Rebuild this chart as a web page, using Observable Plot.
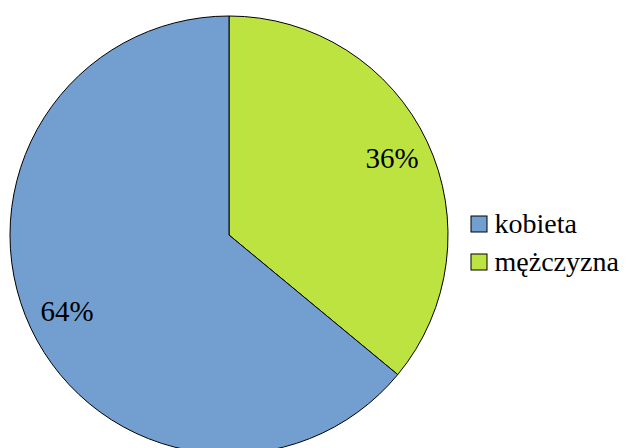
<!DOCTYPE html>
<html>
<head>
<meta charset="utf-8">
<script src="https://cdn.jsdelivr.net/npm/d3@7"></script>
<script src="https://cdn.jsdelivr.net/npm/@observablehq/plot@0.6"></script>
<style>
  html, body { margin: 0; padding: 0; background: #ffffff; }
  #chart svg { display: block; }
  #fontwarm { position: absolute; left: 0; top: 460px; font-family: "Liberation Serif"; font-size: 28px; color: #fff; white-space: nowrap; }
</style>
</head>
<body>
<div id="chart"></div>
<div id="fontwarm">kobieta mężczyzna 64% 36%</div>
<script>
// ---- data ----
const categories = ["kobieta", "mężczyzna"];
const shares = [64, 36];
const shareLabels = ["64%", "36%"];
const sliceColors = ["#729fcf", "#bde341"];
// drawing order of the slices, clockwise from 12 o'clock
const pieOrder = ["mężczyzna", "kobieta"];

// ---- layout ----
const W = 632, H = 448;
const CX = 229, CY = 235, R = 219;
const LABEL_R = 0.82;
const FONT = "Liberation Serif";

const rows = categories.map((c, i) => ({cat: c, value: shares[i], label: shareLabels[i]}));
const pieRows = pieOrder.map(c => rows.find(r => r.cat === c));
const arcs = d3.pie().sort(null).value(d => d.value)(pieRows);
const labelArc = d3.arc().innerRadius(R * LABEL_R).outerRadius(R * LABEL_R);
const labelRows = arcs.map(a => {
  const [dx, dy] = labelArc.centroid(a);
  return {x: CX + dx, y: CY + dy, text: a.data.label};
});

function pieMark(index, scales) {
  const color = scales.color || d3.scaleOrdinal(categories, sliceColors);
  const px = scales.x(CX), py = scales.y(CY);
  const pr = scales.x(CX + R) - scales.x(CX);
  const arc = d3.arc().innerRadius(0).outerRadius(pr);
  const g = d3.create("svg:g").attr("transform", `translate(${px},${py})`);
  g.selectAll("path")
    .data(arcs)
    .join("path")
    .attr("d", arc)
    .attr("fill", d => color(d.data.cat))
    .attr("stroke", "#000")
    .attr("stroke-width", 1);
  return g.node();
}

const LEG_X = 471, LEG_Y = 216, LEG_STEP = 38, LEG_BOX = 16;

const chart = Plot.plot({
  width: W,
  height: H,
  margin: 0,
  x: {domain: [0, W], range: [0, W], axis: null},
  y: {domain: [0, H], range: [0, H], axis: null},
  color: {domain: categories, range: sliceColors},
  marks: [
    pieMark,
    Plot.text(labelRows, {
      x: "x", y: "y", text: "text",
      fontSize: 29, fontFamily: FONT, fill: "#000",
      lineAnchor: "middle"
    }),
    Plot.rect(rows, {
      x1: () => LEG_X, x2: () => LEG_X + LEG_BOX,
      y1: (d, i) => LEG_Y + i * LEG_STEP, y2: (d, i) => LEG_Y + i * LEG_STEP + LEG_BOX,
      fill: "cat", stroke: "#000", strokeWidth: 1
    }),
    Plot.text(rows, {
      x: () => LEG_X + LEG_BOX + 7,
      y: (d, i) => LEG_Y + LEG_BOX / 2 + i * LEG_STEP,
      text: "cat",
      fontSize: 28, fontFamily: FONT, fill: "#000",
      textAnchor: "start", lineAnchor: "middle"
    })
  ]
});
document.getElementById("chart").appendChild(chart);
// force style/layout so the serif face is resolved before the picture is taken
chart.querySelectorAll("text").forEach(t => getComputedStyle(t).fontFamily);
document.body.offsetHeight;
</script>
</body>
</html>
